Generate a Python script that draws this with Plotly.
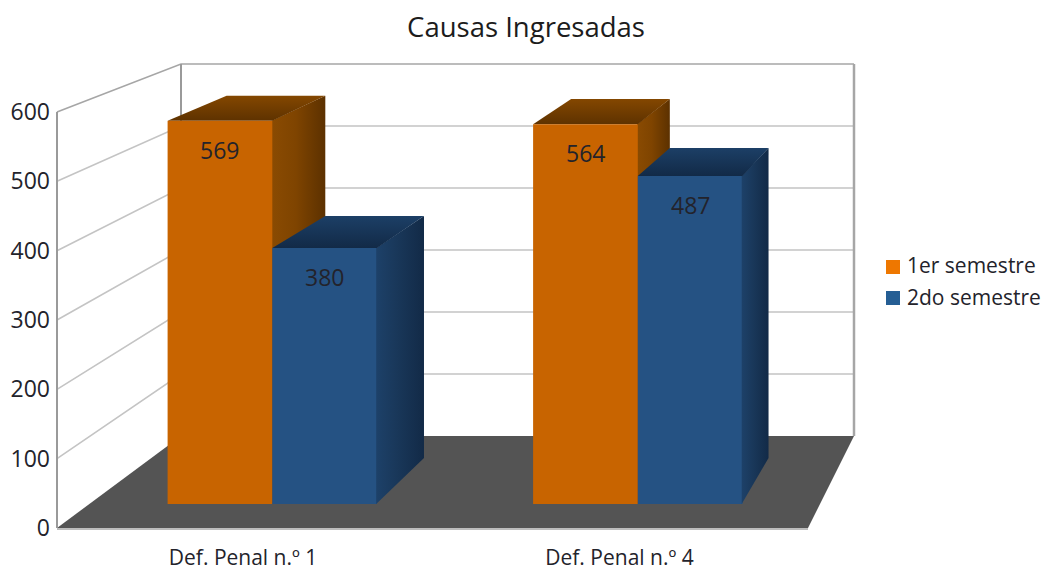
import plotly.graph_objects as go

# ---- data ----
categories = ["Def. Penal n.º 1", "Def. Penal n.º 4"]
series_names = ["1er semestre", "2do semestre"]
values_first = [569, 564]
values_second = [380, 487]
axis_ticks = [0, 100, 200, 300, 400, 500, 600]

# ---- style ----
FONT = "Open Sans"
TEXT = "#23232b"
W, H = 1046, 570
BAR_COL = ["#c86400", "#255283"]
LEG_COL = ["#ee7700", "#255e94"]
SIDE_GRAD = [[[0, "#8a4b02"], [0.45, "#7f4400"], [1, "#5c3100"]],
             [[0, "#1d4169"], [0.45, "#193759"], [1, "#122a47"]]]
TOP_GRAD = [[[0, "#5e3200"], [1, "#844700"]],
            [[0, "#122a47"], [1, "#1c3f66"]]]
LEGEND_SWATCH_X = [893, 893]
LEGEND_SWATCH_Y = [267, 298]

# ---- projection helpers (pixel frame of the 3D scene) ----
FRONT0, FRONT_K = 504.0, 0.6735          # bars' front plane
CAT0, CAT_STEP, BAR_W = 272.3, 365.5, 104.7
WALLF0, WALLF_K = 528.0, 0.6933          # front edge of the left wall
WALLB0, WALLB_K = 436.0, 0.62            # back wall
LEFT_F, LEFT_B, RIGHT_B, RIGHT_F = 57.0, 181.0, 854.0, 808.0

def front_y(v):
    return FRONT0 - v * FRONT_K

def back_pt(px, py):
    return px + (1197.0 - px) * 0.0573, py + (-335.0 - py) * 0.0548

fig = go.Figure()

def poly(xs, ys, **kw):
    fig.add_trace(go.Scatter(x=xs, y=ys, mode="lines", showlegend=False,
                             hoverinfo="skip", xaxis="x", yaxis="y", **kw))

# floor
poly([LEFT_F, LEFT_B, RIGHT_B, RIGHT_F, LEFT_F],
     [WALLF0, WALLB0, WALLB0, WALLF0, WALLF0],
     fill="toself", fillcolor="#545454", line=dict(color="#545454", width=0))

# walls' gridlines
for t in axis_ticks[1:]:
    yf, yb = WALLF0 - t * WALLF_K, WALLB0 - t * WALLB_K
    strong = t == axis_ticks[-1]
    poly([LEFT_F, LEFT_B, RIGHT_B], [yf, yb, yb],
         line=dict(color="#a6a6a6" if strong else "#c4c4c4", width=1.6))
# wall uprights and front floor edge
top = axis_ticks[-1]
poly([LEFT_F, LEFT_F], [WALLF0, WALLF0 - top * WALLF_K], line=dict(color="#9a9a9a", width=2))
poly([LEFT_B, LEFT_B], [WALLB0, WALLB0 - top * WALLB_K], line=dict(color="#9a9a9a", width=2))
poly([RIGHT_B, RIGHT_B], [WALLB0, WALLB0 - top * WALLB_K], line=dict(color="#a6a6a6", width=2.5))
poly([LEFT_F, RIGHT_F], [WALLF0 + 1, WALLF0 + 1], line=dict(color="#bdbdbd", width=2))

def faces(values, idx, draw):
    for c, v in enumerate(values):
        xl = CAT0 + c * CAT_STEP + (idx - 1) * BAR_W
        xr = xl + BAR_W
        yt, yb = front_y(v), front_y(0)
        bxl, byt = back_pt(xl, yt)
        bxr, byt2 = back_pt(xr, yt)
        _, byb = back_pt(xr, yb)
        seam = xr - 0.8   # overlap the front face so no background shows along the join
        draw([seam, bxr, bxr, seam, seam], [yt, byt2, byb, yb, yt],
             fill="toself", line=dict(width=0),
             fillgradient=dict(type="horizontal", colorscale=SIDE_GRAD[idx]))
        draw([xl, bxl, bxr, xr, xl], [yt, byt, byt2, yt, yt],
             fill="toself", line=dict(width=0),
             fillgradient=dict(type="vertical", colorscale=TOP_GRAD[idx]))

# orange sides sit under every front face
faces(values_first, 0, poly)

# front faces
xcat = list(range(len(categories)))
for name, vals, col in zip(series_names, [values_first, values_second], BAR_COL):
    fig.add_trace(go.Bar(x=xcat, y=vals, name=name, marker=dict(color=col, line=dict(width=0)),
                         xaxis="x2", yaxis="y2", showlegend=False, hoverinfo="skip"))

# blue sides, above the orange front layer (same subplot as the bars)
def poly_bars(xs, ys, **kw):
    fig.add_trace(go.Scatter(x=[(a - CAT0) / CAT_STEP for a in xs],
                             y=[(FRONT0 - b) / FRONT_K for b in ys],
                             mode="lines", showlegend=False, hoverinfo="skip",
                             xaxis="x2", yaxis="y2", **kw))
faces(values_second, 1, poly_bars)

# legend: text entries plus swatches set closer to the text than plotly's fixed key width allows
for name, g in zip(series_names, "ab"):
    fig.add_trace(go.Scatter(x=[None], y=[None], mode="markers", name=name, legendgroup=g,
                             marker=dict(symbol="square", size=14, color="rgba(0,0,0,0)"),
                             xaxis="x", yaxis="y"))
fig.add_trace(go.Scatter(x=LEGEND_SWATCH_X, y=LEGEND_SWATCH_Y, mode="markers", showlegend=False,
                         hoverinfo="skip", marker=dict(symbol="square", size=14, color=LEG_COL),
                         xaxis="x", yaxis="y"))

# left value axis carrier
fig.add_trace(go.Scatter(x=[None], y=[None], xaxis="x", yaxis="y3", showlegend=False, hoverinfo="skip"))

# value labels
ann = []
for idx, vals in enumerate([values_first, values_second]):
    for c, v in enumerate(vals):
        ann.append(dict(x=c + (idx - 0.5) * BAR_W / CAT_STEP, y=v, xref="x2", yref="y2",
                        text=str(v), showarrow=False, yshift=-29,
                        font=dict(family=FONT, size=23, color=TEXT)))

LABEL_OFFSET = [-0.08, -0.05]
px_range = [(-CAT0) / CAT_STEP, (W - CAT0) / CAT_STEP]
fig.update_layout(
    width=W, height=H, autosize=False,
    margin=dict(l=0, r=0, t=0, b=0, pad=0, autoexpand=False),
    paper_bgcolor="white", plot_bgcolor="rgba(0,0,0,0)",
    font=dict(family=FONT, color=TEXT),
    title=dict(text="Causas Ingresadas", x=526 / W, xanchor="center", xref="paper",
               y=1 - 27 / H, yanchor="middle", yref="paper",
               font=dict(family=FONT, size=27.5, color="#1c1c1c")),
    barmode="group", bargap=1 - 2 * BAR_W / CAT_STEP, bargroupgap=0,
    xaxis=dict(range=[0, W], visible=False, domain=[0, 1]),
    yaxis=dict(range=[H, 0], visible=False, domain=[0, 1]),
    xaxis2=dict(range=px_range, domain=[0, 1], anchor="free", position=1 - 543 / H,
                tickmode="array", tickvals=[i + o for i, o in zip(xcat, LABEL_OFFSET)],
                ticktext=categories, showgrid=False, zeroline=False, showline=False, ticks="",
                tickfont=dict(family=FONT, size=21, color=TEXT)),
    yaxis2=dict(range=[(FRONT0 - H) / FRONT_K, FRONT0 / FRONT_K], domain=[0, 1], visible=False),
    yaxis3=dict(range=[0, top], domain=[1 - WALLF0 / H, 1 - (WALLF0 - top * WALLF_K) / H],
                anchor="free", position=50 / W, side="left",
                tickmode="array", tickvals=axis_ticks, showgrid=False, zeroline=False,
                showline=False, ticks="", tickfont=dict(family=FONT, size=23, color=TEXT)),
    legend=dict(x=867 / W, y=1 - 245 / H, xanchor="left", yanchor="top",
                font=dict(family=FONT, size=21, color=TEXT),
                tracegroupgap=1, itemsizing="trace", bgcolor="rgba(0,0,0,0)", itemwidth=30),
    annotations=ann,
    showlegend=True,
)
fig.write_html("out.html", config={"displayModeBar": False},
               post_script="document.body.style.margin='0';document.documentElement.style.overflow='hidden';")
